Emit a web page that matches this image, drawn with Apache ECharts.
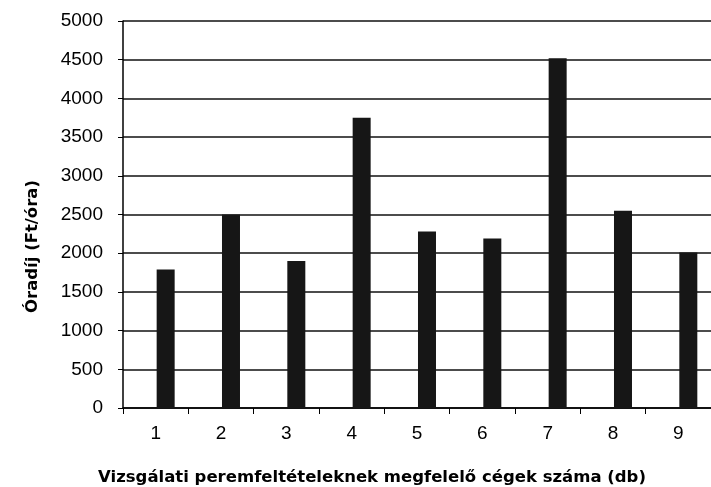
<!DOCTYPE html>
<html>
<head>
<meta charset="utf-8">
<script src="https://cdn.jsdelivr.net/npm/echarts@6/dist/echarts.min.js"></script>
<style>html,body{margin:0;padding:0;background:#fff}#c{width:711px;height:487px}</style>
</head>
<body>
<div id="c"></div>
<script>
const categories = ['1','2','3','4','5','6','7','8','9'];
const hourlyRates = [1790, 2500, 1900, 3750, 2280, 2190, 4520, 2550, 2010];
const spacerSeries = ['-','-','-','-','-','-','-','-','-'];
const yTicks = [0, 500, 1000, 1500, 2000, 2500, 3000, 3500, 4000, 4500, 5000];
const yTitle = 'Óradíj (Ft/óra)';
const xTitle = 'Vizsgálati peremfeltételeknek megfelelő cégek száma (db)';

const chart = echarts.init(document.getElementById('c'), null, {renderer: 'canvas'});
const font = 'Liberation Sans, Arial, sans-serif';
const boldFont = 'DejaVu Sans, Liberation Sans, sans-serif';
chart.setOption({
  animation: false,
  backgroundColor: '#fff',
  title: {
    text: xTitle,
    left: 367, top: 464, textAlign: 'center',
    textStyle: {fontFamily: boldFont, fontWeight: 'bold', fontSize: 16.5, color: '#000'}
  },
  grid: {left: 123, top: 21, bottom: 79, right: -9, containLabel: false},
  xAxis: {
    type: 'category',
    data: categories,
    axisLine: {lineStyle: {color: '#000', width: 1.5}},
    axisTick: {show: true, length: 6, lineStyle: {color: '#000'}},
    axisLabel: {fontFamily: font, fontSize: 19, color: '#000', margin: 16}
  },
  yAxis: {
    type: 'value',
    min: yTicks[0], max: yTicks[yTicks.length - 1], interval: 500,
    name: yTitle,
    nameLocation: 'middle', nameRotate: 90, nameGap: 82,
    nameTextStyle: {fontFamily: boldFont, fontWeight: 'bold', fontSize: 16.5, color: '#000', padding: [0, 64, 0, 0]},
    axisLine: {show: true, lineStyle: {color: '#000', width: 1.5}},
    axisTick: {show: true, length: 5, lineStyle: {color: '#000'}},
    axisLabel: {fontFamily: font, fontSize: 19, color: '#000', margin: 20, formatter: v => String(v)},
    splitLine: {show: true, lineStyle: {color: '#111', width: 1.5}}
  },
  series: [
    {type: 'bar', name: 'spacer', data: spacerSeries, barWidth: 18, barGap: '11%'},
    {type: 'bar', name: 'Óradíj', data: hourlyRates, barWidth: 18, barGap: '11%',
     itemStyle: {color: '#161616'}}
  ]
});
</script>
</body>
</html>
